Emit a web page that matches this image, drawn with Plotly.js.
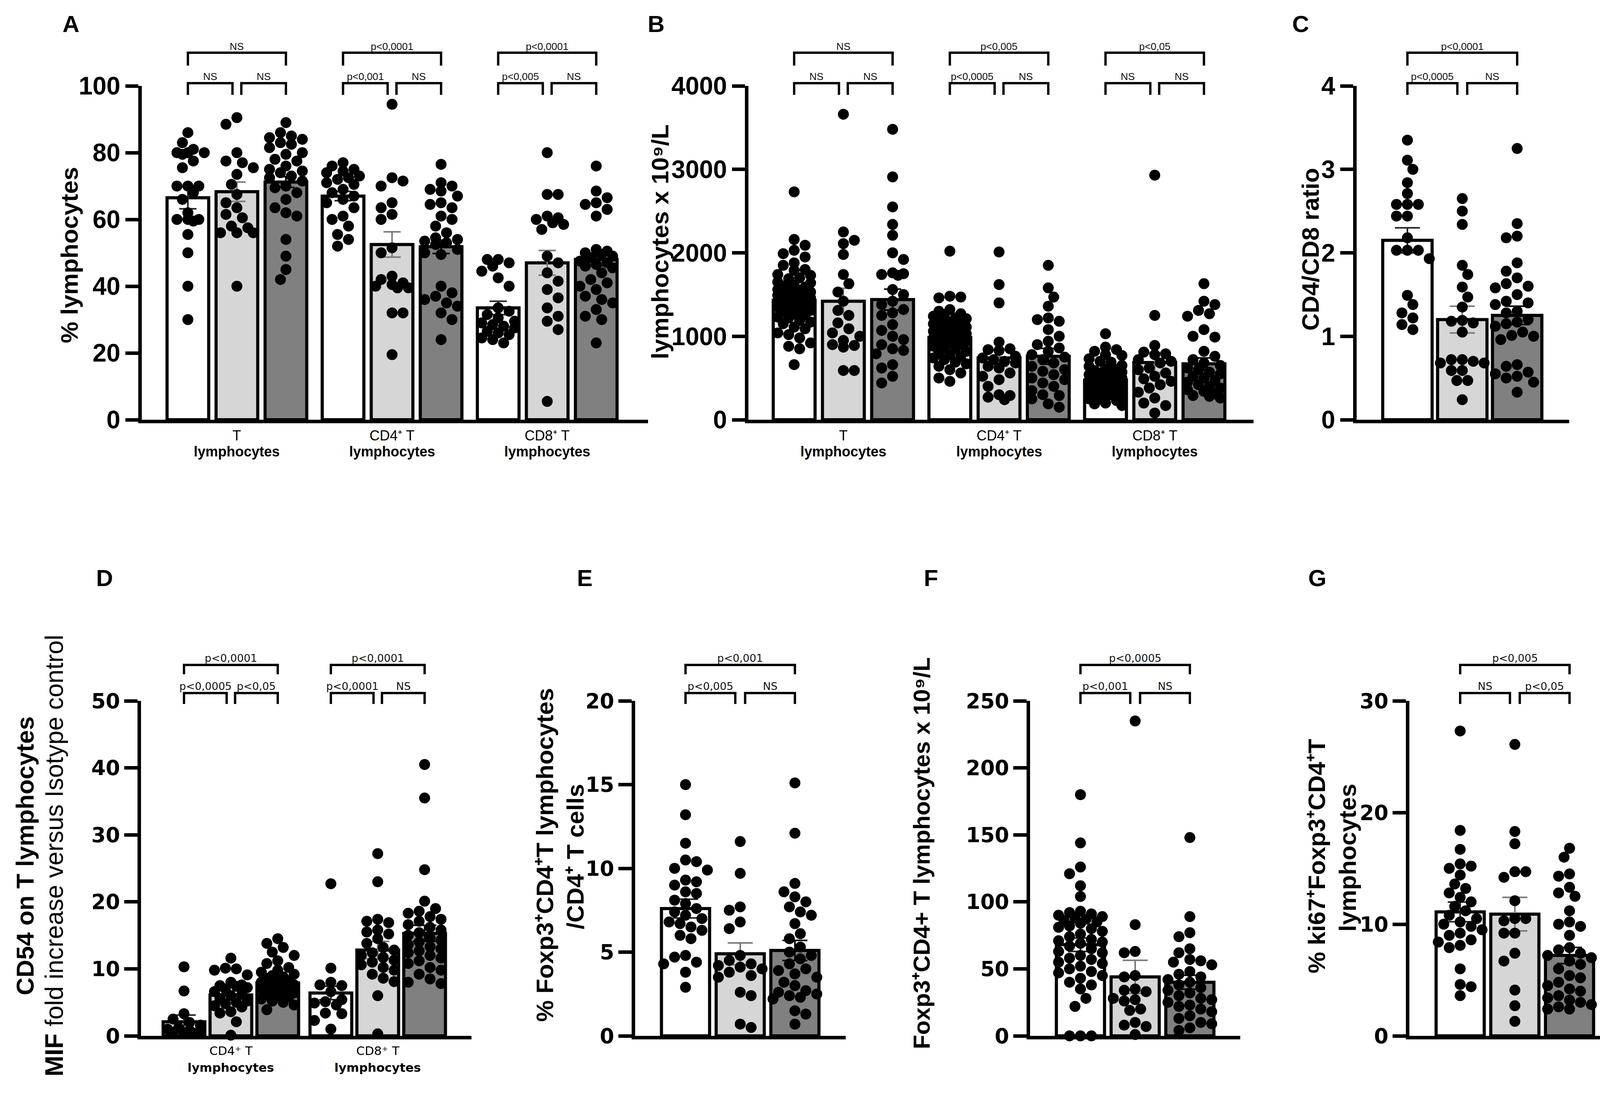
<!DOCTYPE html>
<html>
<head>
<meta charset="utf-8">
<script src="https://cdn.plot.ly/plotly-3.0.1.min.js"></script>
<style>
html, body { margin: 0; padding: 0; background: #fff; }
#fig { width: 4184px; height: 2848px; }
</style>
</head>
<body>
<div id="fig"></div>
<script>
/* values: one array of dots per bar, bars ordered
   white / light grey / dark grey inside each group */

// A - % lymphocytes
var A_T_1 = [86, 83, 81, 80, 80, 80, 79.5, 77.5, 75.5, 70, 70, 70, 68, 66, 62, 60, 60, 60, 59.5, 55.5, 50, 40, 30];
var A_T_2 = [90.5, 88.5, 80, 77.5, 77, 75.5, 73.5, 70.5, 67.5, 65, 63.5, 61.5, 60.5, 58, 57.5, 56, 56, 56, 40];
var A_T_3 = [89, 86, 85, 84.5, 84, 83, 82.5, 81.5, 80, 79.5, 78, 77.5, 76, 75, 74.5, 74, 73, 72.5, 71.5, 70, 69.5, 68, 66, 63.5, 62, 61, 54, 49, 45, 42];
var A_CD4_1 = [77, 76, 75, 74.5, 74, 73, 72.5, 72, 71, 70.5, 69, 68, 67, 66, 65, 63.5, 61, 60, 58, 55.5, 54, 52];
var A_CD4_2 = [94.5, 72.5, 71.5, 70, 65, 63.5, 61.5, 60, 51.5, 50, 43, 42, 41, 40.5, 40, 39.5, 39.5, 32, 32, 19.5];
var A_CD4_3 = [76.5, 71, 70, 69, 68.5, 67, 65, 64.5, 63.5, 61, 60, 58, 56, 54.5, 54, 53.5, 53, 52.5, 51, 50, 49.5, 40, 38, 37, 36, 35, 34, 32, 30, 24];
var A_CD8_1 = [48, 48, 47, 46, 44.5, 42.5, 40, 33.5, 32.5, 31.5, 30.5, 29.5, 29, 28.5, 28, 27.5, 26.5, 26, 25.5, 24.5, 24, 23];
var A_CD8_2 = [80, 67.5, 67.5, 61, 60.5, 60, 59, 58.5, 57, 49, 47, 44, 41.5, 39, 36.5, 33.5, 31, 29.5, 27, 5.5];
var A_CD8_3 = [76, 68.5, 66.5, 65, 64.5, 63, 61, 51, 50.5, 50, 49.5, 49, 48.5, 47.5, 47, 46.5, 46, 45.5, 44, 42, 41, 40, 39, 37, 36, 35, 33, 31, 30, 23];
var A_mean = [66.5, 68.3, 71.2, 67.0, 52.5, 51.8, 33.5, 47.0, 48.0];
var A_sem = [3.3, 2.9, 1.6, 1.4, 3.8, 2.0, 2.0, 3.7, 1.9];
var A_p = [['NS', 'NS', 'NS'], ['p<0,0001', 'p<0,001', 'NS'], ['p<0,0001', 'p<0,005', 'NS']];

// B - lymphocytes x 10^9/L
var B_T_1 = [2730, 2160, 2090, 2030, 1990, 1950, 1880, 1850, 1800, 1790, 1740, 1730, 1700, 1690, 1650, 1640, 1610, 1600, 1590, 1570, 1560, 1550, 1530, 1520, 1500, 1500, 1490, 1470, 1470, 1460, 1450, 1440, 1420, 1420, 1400, 1400, 1390, 1370, 1360, 1350, 1350, 1330, 1320, 1310, 1300, 1270, 1260, 1230, 1220, 1190, 1170, 1150, 1110, 1090, 1040, 1020, 980, 920, 880, 850, 660];
var B_T_2 = [3660, 2250, 2150, 2110, 1980, 1740, 1630, 1530, 1420, 1310, 1250, 1160, 1090, 1040, 1000, 950, 900, 890, 870, 590, 590];
var B_T_3 = [3480, 2910, 2550, 2340, 2210, 2000, 1920, 1760, 1750, 1740, 1730, 1560, 1500, 1420, 1380, 1320, 1280, 1250, 1140, 1070, 1000, 960, 900, 850, 830, 790, 660, 620, 520, 440];
var B_CD4_1 = [2020, 1480, 1470, 1460, 1320, 1300, 1270, 1260, 1240, 1220, 1210, 1200, 1170, 1160, 1150, 1130, 1120, 1110, 1100, 1090, 1080, 1060, 1050, 1040, 1030, 1010, 1000, 990, 980, 970, 960, 940, 930, 920, 900, 880, 860, 850, 820, 800, 780, 760, 740, 720, 690, 670, 640, 600, 560, 500, 460];
var B_CD4_2 = [2010, 1620, 1400, 930, 850, 840, 830, 760, 740, 720, 700, 680, 640, 620, 560, 520, 480, 400, 300, 290, 270, 240];
var B_CD4_3 = [1850, 1580, 1470, 1360, 1220, 1200, 1180, 1080, 1000, 940, 900, 860, 820, 780, 750, 720, 680, 640, 600, 580, 540, 500, 480, 440, 400, 350, 300, 290, 250, 190, 150];
var B_CD8_1 = [1030, 870, 840, 820, 780, 770, 730, 700, 690, 650, 640, 610, 600, 590, 570, 570, 560, 540, 540, 530, 510, 510, 500, 480, 480, 470, 460, 450, 440, 430, 420, 400, 400, 390, 380, 370, 350, 350, 340, 320, 320, 300, 300, 290, 270, 260, 250, 230, 200, 190, 170];
var B_CD8_2 = [2930, 1250, 890, 810, 790, 780, 720, 700, 680, 620, 600, 560, 520, 490, 460, 420, 380, 330, 260, 200, 170, 80];
var B_CD8_3 = [1630, 1420, 1380, 1310, 1270, 1240, 1080, 1000, 990, 820, 760, 720, 680, 650, 620, 600, 570, 550, 520, 500, 470, 450, 420, 400, 380, 360, 340, 310, 290, 280, 260];
var B_mean = [1430, 1420, 1440, 985, 740, 760, 475, 685, 670];
var B_sem = [40, 155, 125, 30, 100, 95, 20, 120, 70];
var B_p = [['NS', 'NS', 'NS'], ['p<0,005', 'p<0,0005', 'NS'], ['p<0,05', 'NS', 'NS']];

// C - CD4/CD8 ratio
var C_1 = [3.35, 3.11, 3.0, 2.84, 2.71, 2.58, 2.58, 2.58, 2.44, 2.44, 2.18, 2.03, 2.03, 2.03, 1.93, 1.49, 1.38, 1.28, 1.22, 1.14, 1.08];
var C_2 = [2.65, 2.5, 2.34, 1.85, 1.74, 1.59, 1.47, 1.35, 1.19, 1.18, 1.16, 1.05, 0.72, 0.72, 0.70, 0.68, 0.68, 0.59, 0.59, 0.47, 0.47, 0.24];
var C_3 = [3.25, 2.35, 2.2, 2.18, 1.88, 1.78, 1.70, 1.63, 1.6, 1.58, 1.5, 1.42, 1.40, 1.38, 1.30, 1.28, 1.2, 1.17, 1.15, 1.12, 1.05, 1.01, 1.0, 0.96, 0.66, 0.64, 0.57, 0.55, 0.52, 0.5, 0.45, 0.33];
var C_mean = [2.15, 1.2, 1.25];
var C_sem = [0.15, 0.16, 0.11];
var C_p = [['p<0,0001', 'p<0,0005', 'NS']];

// D - CD54 MIF fold increase
var D_CD4_1 = [10.3, 6.7, 3.3, 2.5, 2.0, 1.6, 1.2, 1.0, 0.8, 0.6, 0.5, 0.4, 0.3];
var D_CD4_2 = [11.6, 10.1, 10.0, 9.8, 9.1, 8.0, 7.6, 7.5, 7.4, 7.2, 7.0, 6.6, 6.2, 6.0, 5.6, 5.2, 5.0, 4.8, 4.5, 4.3, 3.6, 3.4, 2.1, 0.1];
var D_CD4_3 = [14.5, 13.8, 13.2, 12.5, 12.0, 11.2, 10.8, 10.2, 9.8, 9.5, 9.2, 9.0, 8.8, 8.6, 8.4, 8.2, 8.0, 7.9, 7.8, 7.6, 7.5, 7.3, 7.1, 7.0, 6.8, 6.6, 6.4, 6.2, 6.0, 5.8, 5.5, 5.2, 5.0, 4.6, 3.9];
var D_CD8_1 = [22.7, 10.1, 8.0, 7.6, 7.5, 6.6, 5.4, 5.1, 4.9, 4.6, 3.4, 3.3, 2.3, 1.0];
var D_CD8_2 = [27.2, 23.0, 17.4, 17.1, 16.9, 15.8, 15.5, 15.2, 14.5, 13.8, 13.2, 12.8, 12.4, 12.0, 11.7, 11.3, 11.0, 10.6, 10.2, 9.8, 9.2, 8.6, 8.1, 6.0, 0.3];
var D_CD8_3 = [40.5, 35.5, 24.8, 20.1, 19.0, 18.6, 18.3, 17.8, 17.4, 17.1, 16.6, 16.2, 15.8, 15.4, 15.0, 14.6, 14.3, 14.0, 13.6, 13.3, 13.0, 12.7, 12.4, 12.0, 11.6, 11.2, 10.8, 10.2, 9.8, 9.2, 8.5, 8.0, 7.8];
var D_mean = [2.1, 6.1, 7.9, 6.4, 12.8, 15.3];
var D_sem = [1.0, 0.6, 0.4, 1.0, 1.3, 1.2];
var D_p = [['p<0,0001', 'p<0,0005', 'p<0,05'], ['p<0,0001', 'p<0,0001', 'NS']];

// E - % Foxp3+CD4+ / CD4+
var E_1 = [15.0, 13.2, 11.5, 10.5, 10.4, 10.0, 9.9, 9.3, 9.2, 9.0, 8.6, 8.5, 8.1, 7.9, 7.6, 7.4, 7.2, 7.0, 6.8, 6.7, 6.5, 6.3, 6.0, 5.8, 4.8, 4.7, 4.4, 4.3, 3.8, 2.9];
var E_2 = [11.6, 9.7, 7.7, 7.5, 6.8, 6.4, 4.8, 4.5, 4.3, 4.2, 4.1, 4.0, 3.8, 3.6, 3.5, 2.6, 2.4, 0.7, 0.5];
var E_3 = [15.1, 12.1, 9.1, 8.6, 8.3, 8.0, 7.7, 7.4, 7.2, 6.7, 6.1, 5.8, 5.3, 5.0, 4.8, 4.6, 4.3, 4.0, 3.9, 3.7, 3.5, 3.2, 3.0, 2.7, 2.6, 2.5, 2.4, 2.3, 2.2, 1.5, 1.3, 0.7];
var E_mean = [7.6, 4.9, 5.1];
var E_sem = [0.56, 0.65, 0.6];
var E_p = [['p<0,001', 'p<0,005', 'NS']];

// F - Foxp3+CD4+ T x 10^9/L
var F_1 = [180, 144, 126, 121, 112, 104, 93, 92, 91, 90, 89, 88, 87, 86, 85, 84, 82, 81, 80, 78, 76, 74, 72, 71, 70, 69, 67, 65, 63, 62, 60, 58, 57, 55, 54, 52, 50, 48, 47, 45, 43, 40, 38, 35, 28, 22, 0, 0, 0];
var F_2 = [235, 83, 63, 62, 45, 44, 35, 34, 33, 28, 27, 26, 20, 19, 10, 8, 7, 1];
var F_3 = [148, 89, 77, 74, 65, 62, 57, 56, 55, 53, 48, 46, 44, 42, 40, 38, 36, 34, 32, 30, 28, 27, 25, 23, 22, 20, 18, 15, 13, 10, 9, 6, 4];
var F_mean = [68, 44, 40];
var F_sem = [5, 12.4, 5.2];
var F_p = [['p<0,0005', 'p<0,001', 'NS']];

// G - % ki67+ among Foxp3+CD4+ T
var G_1 = [27.3, 18.4, 16.7, 15.4, 15.2, 15.0, 14.4, 13.6, 13.2, 12.8, 12.4, 12.0, 11.6, 11.2, 10.8, 10.5, 10.2, 10.0, 9.8, 9.5, 9.2, 9.0, 8.6, 8.4, 8.1, 7.9, 6.0, 4.6, 4.4, 3.6];
var G_2 = [26.1, 18.3, 17.2, 14.7, 14.7, 14.2, 12.1, 10.5, 10.5, 10.3, 9.2, 9.2, 7.4, 6.7, 4.1, 2.7, 1.3];
var G_3 = [16.8, 16.0, 14.5, 14.3, 13.3, 12.8, 12.5, 11.2, 10.2, 10.0, 9.8, 9.0, 7.9, 7.7, 7.4, 7.2, 7.0, 6.7, 6.4, 6.0, 5.4, 5.2, 4.8, 4.5, 4.2, 4.0, 3.6, 3.4, 3.2, 3.0, 2.8, 2.6, 2.4, 2.4];
var G_mean = [11.1, 10.9, 7.2];
var G_sem = [0.88, 1.5, 0.72];
var G_p = [['p<0,005', 'NS', 'p<0,05']];

var cats3 = ['T', 'CD4⁺ T', 'CD8⁺ T'];
var cats2 = ['CD4⁺ T', 'CD8⁺ T'];

//---------------------------------------------------------------------//
var W = 4184, H = 2848;
var DOT = 28;
var FILL = ['#ffffff', '#d6d6d6', '#808080'];
var ERRC = ['#222222', '#7a7a7a', '#000000'];
var FT = 'Liberation Sans, Arial, sans-serif';
var FD = 'DejaVu Sans, Verdana, sans-serif';

// style per row of panels (px offsets measured from the top of the y axis)
var ROW = [
    {tick: {family: FT, size: 64, weight: 'bold', color: '#000'}, ticklen: 33,
     ptxt: {family: FT, size: 26, color: '#111'},
     upper: 85, legUp: 52, lower: 7, legLow: -23, tUp: 101, tLow: 24,
     cat1: 40, cat2: 81, cat: {family: FT, size: 36, color: '#000'}},
    {tick: {family: FD, size: 53, weight: 'bold', color: '#000'}, ticklen: 34,
     ptxt: {family: FD, size: 27, color: '#111'},
     upper: 92, legUp: 68, lower: 20, legLow: -8, tUp: 110, tLow: 38,
     cat1: 38, cat2: 81, cat: {family: FD, size: 31, color: '#000'}}
];

var panels = [
    {n: 1, letter: 'A', lx: 181, ly: 61, row: 0, left: 363, right: 1659, top: 220, bottom: 1075,
     xr: [-0.94, 9.387], yr: [0, 100], tv: [0, 20, 40, 60, 80, 100], step: 3.165, bw: 0.85, cap: 22,
     sets: [A_T_1, A_T_2, A_T_3, A_CD4_1, A_CD4_2, A_CD4_3, A_CD8_1, A_CD8_2, A_CD8_3],
     mean: A_mean, sem: A_sem, p: A_p, cats: cats3,
     titles: [{t: '<b>% lymphocytes</b>', x: 177, y: 654, s: 62}]},
    {n: 2, letter: 'B', lx: 1679, ly: 61, row: 0, left: 1916, right: 3209, top: 220, bottom: 1075,
     xr: [-0.929, 9.333], yr: [0, 4000], tv: [0, 1000, 2000, 3000, 4000], step: 3.163, bw: 0.85, cap: 22,
     sets: [B_T_1, B_T_2, B_T_3, B_CD4_1, B_CD4_2, B_CD4_3, B_CD8_1, B_CD8_2, B_CD8_3],
     mean: B_mean, sem: B_sem, p: B_p, cats: cats3,
     titles: [{t: '<b>lymphocytes x 10⁹/L</b>', x: 1689, y: 620, s: 62}]},
    {n: 3, letter: 'C', lx: 3329, ly: 61, row: 0, left: 3473, right: 4017, top: 220, bottom: 1075,
     xr: [-0.925, 2.947], yr: [0, 4], tv: [0, 1, 2, 3, 4], step: 0, bw: 0.9, cap: 32,
     sets: [C_1, C_2, C_3], mean: C_mean, sem: C_sem, p: C_p, cats: null,
     titles: [{t: '<b>CD4/CD8 ratio</b>', x: 3354, y: 639, s: 62}]},
    {n: 4, letter: 'D', lx: 267, ly: 1480, row: 1, left: 361, right: 1207, top: 1795, bottom: 2653,
     xr: [-0.917, 6.133], yr: [0, 50], tv: [0, 10, 20, 30, 40, 50], step: 3.133, bw: 0.89, cap: 30,
     sets: [D_CD4_1, D_CD4_2, D_CD4_3, D_CD8_1, D_CD8_2, D_CD8_3],
     mean: D_mean, sem: D_sem, p: D_p, cats: cats2,
     titles: [{t: '<b>CD54 on T lymphocytes</b>', x: 64, y: 2192, s: 63},
              {t: '<b>MIF</b> fold increase versus Isotype control', x: 139, y: 2192, s: 64}]},
    {n: 5, letter: 'E', lx: 1497, ly: 1480, row: 1, left: 1626, right: 2165, top: 1795, bottom: 2653,
     xr: [-0.921, 2.929], yr: [0, 20], tv: [0, 5, 10, 15, 20], step: 0, bw: 0.88, cap: 32,
     sets: [E_1, E_2, E_3], mean: E_mean, sem: E_sem, p: E_p, cats: null,
     titles: [{t: '<b>% Foxp3⁺CD4⁺T lymphocytes</b>', x: 1394, y: 2190, s: 62},
              {t: '<b>/CD4⁺ T cells</b>', x: 1472, y: 2194, s: 62}]},
    {n: 6, letter: 'F', lx: 2383, ly: 1480, row: 1, left: 2637, right: 3175, top: 1795, bottom: 2653,
     xr: [-0.921, 2.921], yr: [0, 250], tv: [0, 50, 100, 150, 200, 250], step: 0, bw: 0.88, cap: 32,
     sets: [F_1, F_2, F_3], mean: F_mean, sem: F_sem, p: F_p, cats: null,
     titles: [{t: '<b>Foxp3⁺CD4+ T lymphocytes x 10⁹/L</b>', x: 2359, y: 2185, s: 60}]},
    {n: 7, letter: 'G', lx: 3373, ly: 1480, row: 1, left: 3608, right: 4150, top: 1795, bottom: 2653,
     xr: [-0.929, 2.943], yr: [0, 30], tv: [0, 10, 20, 30], step: 0, bw: 0.88, cap: 32,
     sets: [G_1, G_2, G_3], mean: G_mean, sem: G_sem, p: G_p, cats: null,
     titles: [{t: '<b>% ki67⁺Foxp3⁺CD4⁺T</b>', x: 3370, y: 2193, s: 62},
              {t: '<b>lymphocytes</b>', x: 3449, y: 2197, s: 62}]}
];

// beeswarm-like spread of the dots, in pixels, then back to axis units
function swarm(vals, cx, u, pxY, half) {
    var order = vals.map(function (v, i) { return i; })
        .sort(function (a, b) { return vals[b] - vals[a]; });
    var placed = [], xs = [];
    var step = DOT * 0.5, need = DOT * 0.92;
    var nMax = Math.max(0, Math.floor(half / step));
    order.forEach(function (idx, n) {
        var py = vals[idx] * pxY;
        var sign = n % 2 ? -1 : 1;
        var best = 0, bestD = -1;
        for (var k = 0; k <= 2 * nMax; k++) {
            var off = k === 0 ? 0 : sign * (k % 2 ? 1 : -1) * Math.ceil(k / 2) * step;
            var dmin = Infinity;
            for (var j = 0; j < placed.length; j++) {
                var dd = Math.hypot(placed[j][0] - off, placed[j][1] - py);
                if (dd < dmin) dmin = dd;
            }
            if (dmin >= need) { best = off; bestD = dmin; break; }
            if (dmin > bestD) { bestD = dmin; best = off; }
        }
        placed.push([best, py]);
        xs[idx] = cx + best / u;
    });
    return xs;
}

var data = [], shapes = [], annotations = [];
var layout = {
    width: W, height: H,
    margin: {l: 0, r: 0, t: 0, b: 0},
    paper_bgcolor: '#fff', plot_bgcolor: 'rgba(0,0,0,0)',
    barmode: 'overlay', showlegend: false,
    font: {family: FT, color: '#000'}
};

function bracket(xa, yref, xL, xR, yTop, yLeg) {
    shapes.push({type: 'path', xref: xa, yref: yref, layer: 'above',
        path: 'M' + xL + ',' + yLeg + ' L' + xL + ',' + yTop + ' L' + xR + ',' + yTop + ' L' + xR + ',' + yLeg,
        line: {color: '#000', width: 6}});
}

function label(o) {
    annotations.push(Object.assign({showarrow: false, xanchor: 'center', yanchor: 'middle'}, o));
}

panels.forEach(function (P) {
    var sfx = P.n === 1 ? '' : String(P.n);
    var xa = 'x' + sfx, ya = 'y' + sfx;
    var S = ROW[P.row];
    var u = (P.right - P.left) / (P.xr[1] - P.xr[0]);
    var h = P.bottom - P.top;
    var pxY = h / (P.yr[1] - P.yr[0]);
    var pos = P.sets.map(function (s, k) { return Math.floor(k / 3) * P.step + k % 3; });

    // bars + SEM, one trace per shade
    for (var i = 0; i < 3; i++) {
        var ks = pos.map(function (p, k) { return k; }).filter(function (k) { return k % 3 === i; });
        data.push({
            type: 'bar', xaxis: xa, yaxis: ya,
            x: ks.map(function (k) { return pos[k]; }),
            y: ks.map(function (k) { return P.mean[k]; }),
            width: P.bw,
            marker: {color: FILL[i], line: {color: '#000', width: 8}},
            error_y: {type: 'data', array: ks.map(function (k) { return P.sem[k]; }),
                      color: ERRC[i], thickness: 4, width: P.cap},
            hoverinfo: 'skip'
        });
    }

    // individual values
    var dx = [], dy = [];
    P.sets.forEach(function (s, k) {
        dx = dx.concat(swarm(s, pos[k], u, pxY, P.bw * u / 2 - 4));
        dy = dy.concat(s);
    });
    data.push({type: 'scatter', mode: 'markers', xaxis: xa, yaxis: ya, x: dx, y: dy,
        marker: {size: DOT, color: '#000'}, cliponaxis: false, hoverinfo: 'skip'});

    layout['xaxis' + sfx] = {
        domain: [P.left / W, P.right / W], anchor: ya, range: P.xr,
        showline: true, linecolor: '#000', linewidth: 9,
        ticks: '', showticklabels: false, showgrid: false, zeroline: false, fixedrange: true
    };
    layout['yaxis' + sfx] = {
        domain: [1 - P.bottom / H, 1 - P.top / H], anchor: xa, range: P.yr,
        showline: true, linecolor: '#000', linewidth: 9,
        ticks: 'outside', ticklen: S.ticklen, tickwidth: 9, tickcolor: '#000',
        tickvals: P.tv, ticktext: P.tv.map(String), tickfont: S.tick,
        showgrid: false, zeroline: false, fixedrange: true
    };

    // significance brackets
    var yref = ya + ' domain';
    var yd = function (px) { return 1 + px / h; };
    P.p.forEach(function (pv, g) {
        var x0 = pos[3 * g], x1 = pos[3 * g + 1], x2 = pos[3 * g + 2];
        bracket(xa, yref, x0, x2, yd(S.upper), yd(S.legUp));
        bracket(xa, yref, x0, x1 - 0.09, yd(S.lower), yd(S.legLow));
        bracket(xa, yref, x1 + 0.09, x2, yd(S.lower), yd(S.legLow));
        label({xref: xa, yref: yref, x: (x0 + x2) / 2, y: yd(S.tUp), text: pv[0], font: S.ptxt});
        label({xref: xa, yref: yref, x: (x0 + x1 - 0.09) / 2, y: yd(S.tLow), text: pv[1], font: S.ptxt});
        label({xref: xa, yref: yref, x: (x1 + 0.09 + x2) / 2, y: yd(S.tLow), text: pv[2], font: S.ptxt});
    });

    // group names under the x axis
    if (P.cats) {
        P.cats.forEach(function (c, g) {
            var xm = pos[3 * g + 1];
            label({xref: xa, yref: yref, x: xm, y: -S.cat1 / h, text: c, font: S.cat});
            label({xref: xa, yref: yref, x: xm, y: -S.cat2 / h, text: '<b>lymphocytes</b>', font: S.cat});
        });
    }

    // y titles and panel letter
    P.titles.forEach(function (t) {
        label({xref: 'paper', yref: 'paper', x: t.x / W, y: 1 - t.y / H, text: t.t, textangle: -90,
               font: {family: FT, size: t.s, color: '#000'}});
    });
    label({xref: 'paper', yref: 'paper', x: P.lx / W, y: 1 - P.ly / H, text: '<b>' + P.letter + '</b>',
           font: {family: FT, size: 60, color: '#000'}});
});

layout.shapes = shapes;
layout.annotations = annotations;

Plotly.newPlot('fig', data, layout, {staticPlot: true, displayModeBar: false});
</script>
</body>
</html>
